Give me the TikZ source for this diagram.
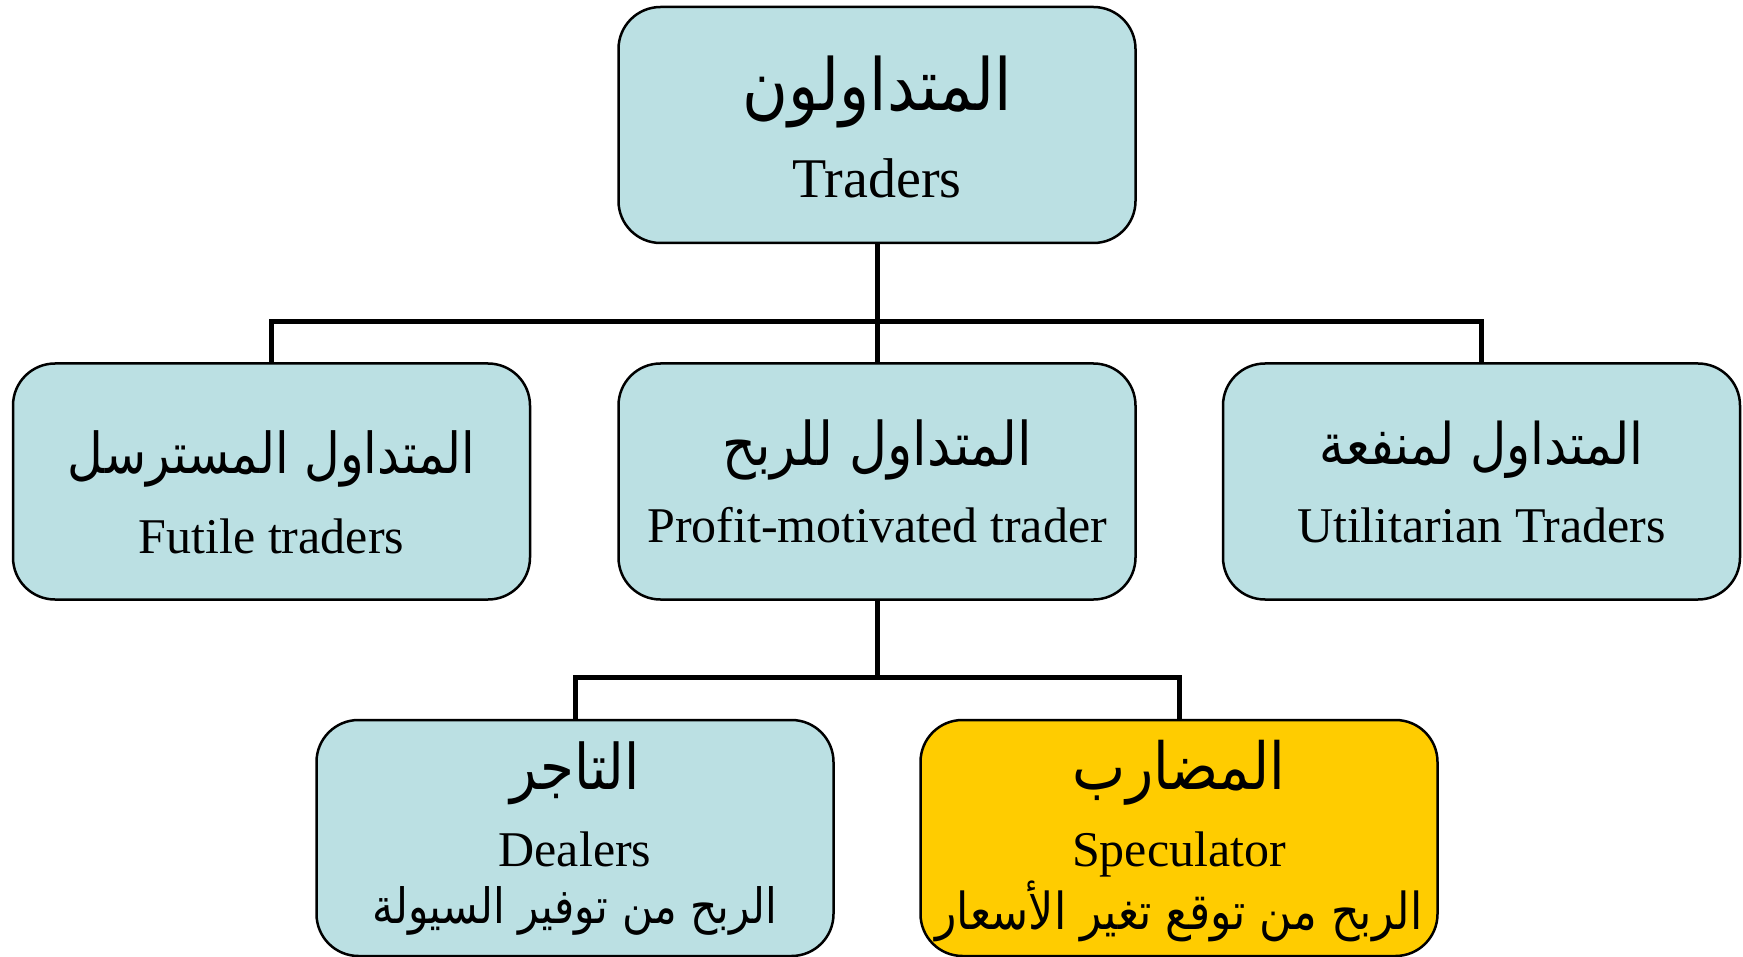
\documentclass[tikz,border=0pt]{standalone}
\usepackage{fontspec}
\usepackage{graphicx}
\setmainfont{Liberation Serif}
\newfontfamily\arabicfont[Script=Arabic]{DejaVu Sans}
\TeXXeTstate=1
\definecolor{boxblue}{HTML}{BBE0E3}
\definecolor{boxgold}{HTML}{FFCC00}
\newcommand{\arw}[2]{\scalebox{1}[1.15]{\resizebox{#1}{!}{\arabicfont #2}}}
\tikzset{
  card/.style={draw=black, line width=2.5pt, rounded corners=42pt, fill=boxblue,
    minimum width=517pt, minimum height=236pt, inner sep=0pt},
  goldcard/.style={card, fill=boxgold},
  conn/.style={draw=black, line width=5pt},
  en/.style={font=\fontsize{50}{60}\selectfont, inner sep=0pt, anchor=base},
  ar/.style={inner sep=0pt, anchor=center},
}
\begin{document}
\begin{tikzpicture}[x=1pt,y=-1pt]
\useasboundingbox (0,0) rectangle (1743,957);
% boxes
\node[card] (top) at (877,125) {};
\node[card] (left) at (271.5,481.5) {};
\node[card] (mid) at (877,481.5) {};
\node[card] (right) at (1481.5,481.5) {};
\node[card] (bl) at (575,838) {};
\node[goldcard] (br) at (1179,838) {};
% junctions
\coordinate (j1) at (877,322);
\coordinate (j2) at (877,677);
% connectors
\draw[conn] (top.south) -- (mid.north);
\draw[conn] (left.north) |- (j1) -| (right.north);
\draw[conn] (mid.south) -- (j2);
\draw[conn] (bl.north) |- (j2) -| (br.north);
% labels
\node[ar] (topar) at (877,92) {\arw{269pt}{\beginR المتداولون\endR}};
\node[en, font=\fontsize{56}{66}\selectfont] (topen) at (877,198) {Traders};
\node[ar] (leftar) at (271.5,459) {\arw{407pt}{\beginR المتداول المسترسل\endR}};
\node[en] (leften) at (271.5,553) {Futile traders};
\node[ar] (midar) at (877,450) {\arw{309pt}{\beginR المتداول للربح\endR}};
\node[en] (miden) at (877,542) {Profit-motivated trader};
\node[ar] (rightar) at (1481.5,450) {\arw{324pt}{\beginR المتداول لمنفعة\endR}};
\node[en] (righten) at (1481.5,542) {Utilitarian Traders};
\node[ar] (blar) at (575,773) {\arw{129pt}{\beginR التاجر\endR}};
\node[en] (blen) at (575,866) {Dealers};
\node[ar] (blar2) at (575,911) {\arw{405pt}{\beginR الربح من توفير السيولة\endR}};
\node[ar] (brar) at (1179,773) {\arw{212pt}{\beginR المضارب\endR}};
\node[en] (bren) at (1179,866) {Speculator};
\node[ar] (brar2) at (1179,911) {\arw{487pt}{\beginR الربح من توقع تغير الأسعار\endR}};
\end{tikzpicture}
\end{document}
